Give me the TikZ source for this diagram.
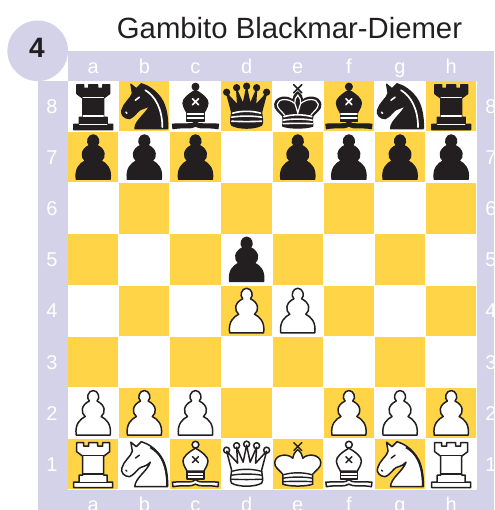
\documentclass[tikz,border=0pt]{standalone}
\usepackage{fontspec}
\setmainfont{Liberation Sans}
\definecolor{lavender}{RGB}{212,210,232}
\definecolor{yolk}{RGB}{255,212,71}
\definecolor{inkdark}{RGB}{35,31,32}
\tikzset{
  blackman/.style={
    hull/.style={fill=inkdark, draw=inkdark, line width=1.2pt, line join=round},
    trim/.style={draw=white, line width=1.6pt, line cap=round},
    lining/.style={draw=white, line width=1.2pt, line cap=round}},
  whiteman/.style={
    hull/.style={fill=white, draw=inkdark, line width=1.5pt, line join=round},
    trim/.style={draw=inkdark, line width=1.4pt, line cap=round},
    lining/.style={draw=none}},
  pawn/.pic={
    \path[hull] (0,22) -- (17,22) .. controls (18.5,11) and (13,6) .. (8,3.5)
      .. controls (12.5,0) and (12.5,-8) .. (3.8,-12) .. controls (7.5,-15) and (5,-22.5) .. (0,-22.5)
      .. controls (-5,-22.5) and (-7.5,-15) .. (-3.8,-12) .. controls (-12.5,-8) and (-12.5,0) .. (-8,3.5)
      .. controls (-13,6) and (-18.5,11) .. (-17,22) -- cycle;
  },
  rook/.pic={
    \path[hull] (-19.5,23.5) -- (19.5,23.5) -- (19.5,18) -- (14,18) -- (14,11) -- (10.5,11) -- (10.5,-8)
      -- (16.5,-12.5) -- (16.5,-21.5) -- (9.5,-21.5) -- (9.5,-18) -- (4.5,-18) -- (4.5,-21.5) -- (-4.5,-21.5)
      -- (-4.5,-18) -- (-9.5,-18) -- (-9.5,-21.5) -- (-16.5,-21.5) -- (-16.5,-12.5) -- (-10.5,-8)
      -- (-10.5,11) -- (-14,11) -- (-14,18) -- (-19.5,18) -- cycle;
    \draw[trim] (-10,-8.5) -- (10,-8.5);
    \draw[trim] (-10,10) -- (10,10);
    \draw[trim] (-13.5,18.5) -- (13.5,18.5);
  },
  knight/.pic={
    \path[hull] (-3,-22.5) .. controls (12,-18) and (23,-4) .. (23,22.5) -- (-9.5,22.5)
      .. controls (-9.5,14) and (3,7) .. (6,-2) .. controls (2,3) and (-4,2) .. (-6,5)
      .. controls (-9,8) and (-11,11) .. (-15,12.5) .. controls (-20,12.5) and (-24,8) .. (-22.5,4)
      .. controls (-21,-3) and (-13,-8) .. (-12,-13) -- (-13.5,-22) -- (-8,-17.5) -- cycle;
    \draw[inkdark, line width=2.2pt] (6,-17) .. controls (16,-11) and (23,-2) .. (23,22.5);
    \draw[lining, line width=1.7pt] (1,-16) .. controls (11,-10) and (18,3) .. (18,21);
    \draw[trim] (-9,-6) -- (-5,-9);
    \draw[trim] (-18.5,6) -- (-17.5,7);
  },
  bishop/.pic={
    \path[hull] (0,-19.5) circle[radius=3.4];
    \path[hull] (0,15.5) .. controls (-3,19) and (-10,17) .. (-23,18) -- (-22.5,22.5)
      .. controls (-12,20.5) and (-4,23) .. (0,20) .. controls (4,23) and (12,20.5) .. (22.5,22.5)
      -- (23,18) .. controls (10,17) and (3,19) .. cycle;
    \path[hull] (-8.5,6) -- (-8.5,15) -- (8.5,15) -- (8.5,6) -- cycle;
    \path[hull] (0,-16) .. controls (-7,-12) and (-13,-7) .. (-12.5,-3) .. controls (-12,2) and (-9,5) .. (-8.5,7)
      -- (8.5,7) .. controls (9,5) and (12,2) .. (12.5,-3) .. controls (13,-7) and (7,-12) .. cycle;
    \draw[trim] (-3,-7.5) -- (3,-1.5) (3,-7.5) -- (-3,-1.5);
    \draw[trim] (-8,7.8) -- (8,7.8) (-8,11.6) -- (8,11.6);
  },
  queen/.pic={
    \path[hull] (-20,-14) circle[radius=3] (-10,-18.5) circle[radius=3] (0,-20) circle[radius=3]
      (10,-18.5) circle[radius=3] (20,-14) circle[radius=3];
    \path[hull] (-15,6) -- (-20,-13) -- (-9,-1) -- (-10,-17) -- (-3.5,-2) -- (0,-19) -- (3.5,-2)
      -- (10,-17) -- (9,-1) -- (20,-13) -- (15,6) .. controls (15.5,12) and (17,16) .. (15,19)
      .. controls (8,23) and (-8,23) .. (-15,19) .. controls (-17,16) and (-15.5,12) .. cycle;
    \draw[trim] (-14,7) .. controls (-6,4.5) and (6,4.5) .. (14,7);
    \draw[trim] (-15,11) .. controls (-6,9.5) and (6,9.5) .. (15,11);
    \draw[trim] (-15,15) .. controls (-6,15.5) and (6,15.5) .. (15,15);
  },
  king/.pic={
    \draw[trim, draw=inkdark] (-4,-21.5) -- (4,-13.5) (4,-21.5) -- (-4,-13.5);
    \path[hull] (0,-14.5) .. controls (-3,-12) and (-5,-9) .. (-5,-6) .. controls (-10,-11) and (-22,-10) .. (-23,-2)
      .. controls (-24,3) and (-18,6) .. (-15,10) .. controls (-14.5,14) and (-15,17) .. (-15,20)
      .. controls (-8,22.5) and (8,22.5) .. (15,20) .. controls (15,17) and (14.5,14) .. (15,10)
      .. controls (18,6) and (24,3) .. (23,-2) .. controls (22,-10) and (10,-11) .. (5,-6)
      .. controls (5,-9) and (3,-12) .. cycle;
    \draw[lining] (-3.5,-3) .. controls (-9,-8) and (-19.5,-8) .. (-20.5,-2) .. controls (-21,2) and (-15,6) .. (-13,9);
    \draw[lining] (3.5,-3) .. controls (9,-8) and (19.5,-8) .. (20.5,-2) .. controls (21,2) and (15,6) .. (13,9);
    \draw[lining] (0,-11) .. controls (-2,-9) and (-3.5,-6) .. (-3,-3) .. controls (-2,0) and (-1,3) .. (0,7)
      .. controls (1,3) and (2,0) .. (3,-3) .. controls (3.5,-6) and (2,-9) .. cycle;
    \draw[trim] (-14,10.5) .. controls (-6,8) and (6,8) .. (14,10.5);
    \draw[trim] (-14.5,14) .. controls (-6,12.5) and (6,12.5) .. (14.5,14);
    \draw[trim] (-14.5,17.5) .. controls (-6,17) and (6,17) .. (14.5,17.5);
  }
}
\begin{document}
\begin{tikzpicture}[
  x=1pt, y=-1pt,
  cell/.style={rectangle, inner sep=0pt, minimum width=50.3pt, minimum height=50.3pt, fill=#1},
  margin/.style={text=white, font=\fontsize{20}{20}\selectfont, inner sep=0pt, anchor=base}
]
  \useasboundingbox (0,0) rectangle (494,510);
  \def\pitch{51.14}
  \fill[lavender] (37.7,50.8) circle[radius=30.3];
  \fill[lavender] (68,51) rectangle (494,510);
  \fill[lavender] (38,81) rectangle (68,510);
  \fill[white] (68,81) rectangle (477.4,490);

  \foreach \col [count=\i from 0] in {a,b,c,d,e,f,g,h} {
    \foreach \row in {1,...,8} {
      \pgfmathtruncatemacro{\parity}{mod(\i+\row,2)}
      \ifnum\parity=1 \def\tone{yolk}\else\def\tone{white}\fi
      \node[cell=\tone] (\col\row) at (93.2+\i*\pitch,106.2+8*\pitch-\row*\pitch) {};
    }
    \node[margin] (top\col) at (93.2+\i*\pitch,73.5) {\col};
    \node[margin] (bot\col) at (93.2+\i*\pitch,511.5) {\col};
  }
  \foreach \row in {1,...,8} {
    \node[margin] (left\row) at (52,113.4+8*\pitch-\row*\pitch) {\row};
    \node[margin] (right\row) at (491,113.4+8*\pitch-\row*\pitch) {\row};
  }

  \foreach \sq/\kind in {a8/rook, b8/knight, c8/bishop, d8/queen, e8/king, f8/bishop, g8/knight, h8/rook,
                         a7/pawn, b7/pawn, c7/pawn, e7/pawn, f7/pawn, g7/pawn, h7/pawn, d5/pawn}
    \pic[blackman] at (\sq) {\kind};
  \foreach \sq/\kind in {a1/rook, b1/knight, c1/bishop, d1/queen, e1/king, f1/bishop, g1/knight, h1/rook,
                         a2/pawn, b2/pawn, c2/pawn, f2/pawn, g2/pawn, h2/pawn, d4/pawn, e4/pawn}
    \pic[whiteman] at (\sq) {\kind};

  \node[text=inkdark, font=\bfseries\fontsize{28}{28}\selectfont, inner sep=0pt, anchor=base] (round) at (37,58) {4};
  \node[text=inkdark, font=\fontsize{29.3}{29.3}\selectfont, inner sep=0pt, anchor=base] (title) at (289.5,39)
    {Gambito Blackmar-Diemer};
\end{tikzpicture}
\end{document}
